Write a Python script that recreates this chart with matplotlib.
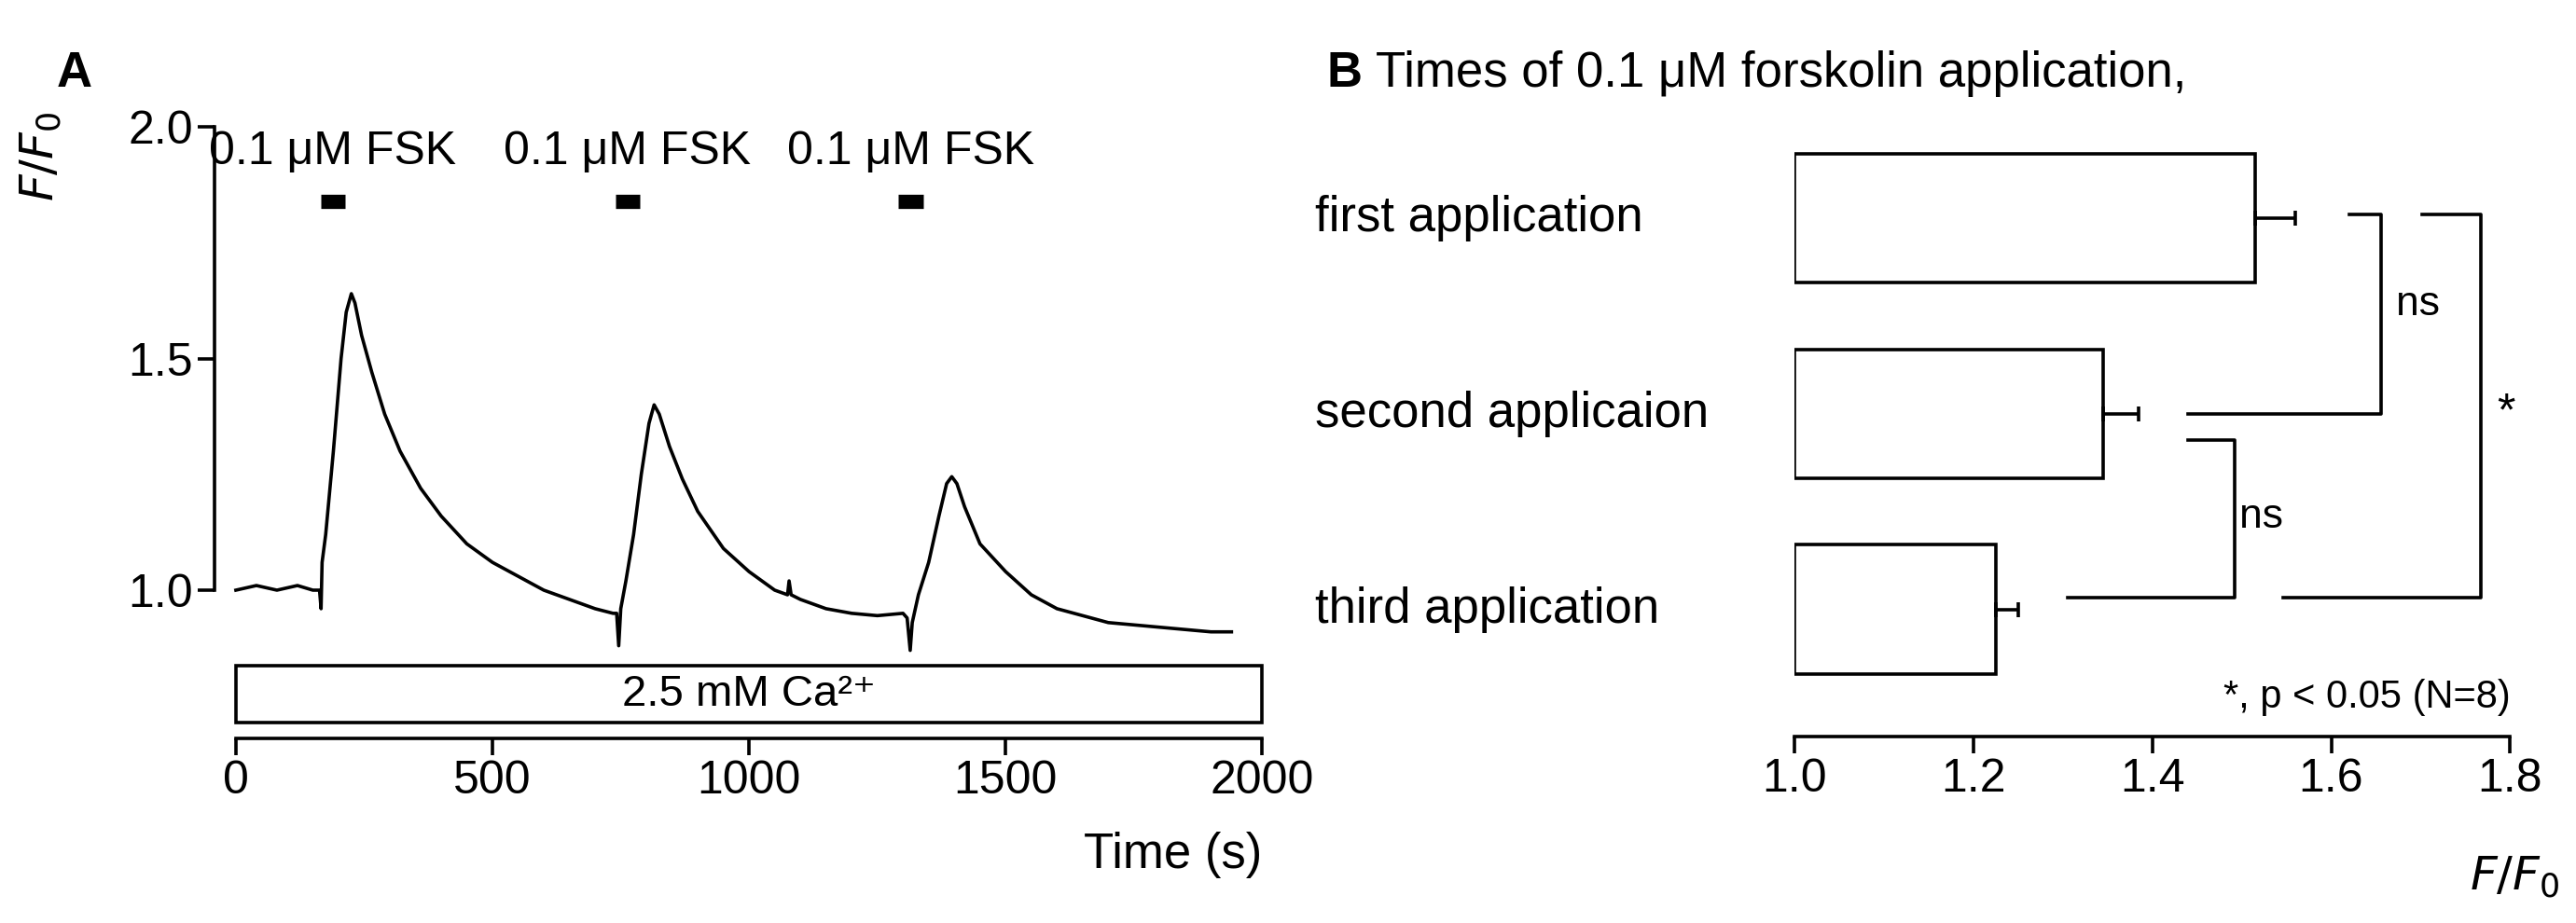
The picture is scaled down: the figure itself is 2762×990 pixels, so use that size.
import matplotlib
matplotlib.use("Agg")
import matplotlib.pyplot as plt
from matplotlib.patches import Rectangle

# Panel A trace (time s, F/F0)
t = [0, 40, 80, 120, 150, 163, 166, 168, 175, 190, 205, 215, 225, 232, 245, 265, 290, 320, 360, 400, 450, 500, 550, 600, 650, 700, 735, 742, 746, 750, 760, 775, 790, 805, 815, 825, 845, 870, 900, 950, 1000, 1050, 1075, 1078, 1082, 1100, 1150, 1200, 1250, 1300, 1308, 1314, 1318, 1330, 1350, 1370, 1385, 1395, 1405, 1420, 1450, 1500, 1550, 1600, 1650, 1700, 1800, 1900, 1940]
f = [1.0, 1.01, 1.0, 1.01, 1.0, 1.0, 0.96, 1.06, 1.12, 1.3, 1.5, 1.6, 1.64, 1.62, 1.55, 1.47, 1.38, 1.30, 1.22, 1.16, 1.10, 1.06, 1.03, 1.0, 0.98, 0.96, 0.95, 0.95, 0.88, 0.96, 1.02, 1.12, 1.25, 1.36, 1.40, 1.38, 1.31, 1.24, 1.17, 1.09, 1.04, 1.0, 0.99, 1.02, 0.99, 0.98, 0.96, 0.95, 0.945, 0.95, 0.94, 0.87, 0.93, 0.99, 1.06, 1.16, 1.23, 1.245, 1.23, 1.18, 1.10, 1.04, 0.99, 0.96, 0.945, 0.93, 0.92, 0.91, 0.91]
fsk_start = [165, 740, 1290]
fsk_end = [212, 787, 1340]

# Panel B
categories = ["first application", "second applicaion", "third application"]
means = [1.515, 1.345, 1.225]
errs = [0.045, 0.04, 0.025]

lw = 2.6
FS = 36
plt.rcParams['font.family'] = ['Liberation Sans', 'DejaVu Sans']
fig = plt.figure(figsize=(27.62, 9.9), dpi=100)

# ---- Panel A
ax = fig.add_axes([0.0832, 0.2, 0.4068, 0.6625])
ax.plot(t, f, color='black', lw=lw)
ax.set_xlim(-42, 2000)
ax.set_ylim(0.68, 2.0)
for s in ['top', 'right']:
    ax.spines[s].set_visible(False)
ax.spines['left'].set_bounds(1.0, 2.0)
ax.spines['bottom'].set_bounds(0, 2000)
for s in ['left', 'bottom']:
    ax.spines[s].set_linewidth(lw)
ax.set_xticks([0, 500, 1000, 1500, 2000])
ax.set_yticks([1.0, 1.5, 2.0])
ax.set_yticklabels(['1.0', '1.5', '2.0'])
ax.tick_params(width=lw, length=13, labelsize=FS)
for a, b in zip(fsk_start, fsk_end):
    ax.plot([a, b], [1.84, 1.84], color='black', lw=11, solid_capstyle='butt')
    ax.text((a + b) / 2, 1.9, "0.1 μM FSK", ha='center', va='bottom', fontsize=FS)
ax.add_patch(Rectangle((0, 0.715), 2000, 0.121, fill=False, lw=lw, clip_on=False))
ax.text(1000, 0.775, "2.5 mM Ca²⁺", ha='center', va='center', fontsize=FS - 2)
ax.text(2000, -0.19, "Time (s)", transform=ax.get_xaxis_transform(), ha='right', va='center', fontsize=FS + 2)
fig.text(0.016, 0.83, "$F/F_0$", rotation=90, ha='center', va='center', fontsize=FS)
fig.text(0.022, 0.92, "A", fontsize=FS + 2, fontweight='bold', ha='left', va='center')

# ---- Panel B
bx = fig.add_axes([0.6967, 0.202, 0.2777, 0.655])
y = [2, 1, 0]
bx.barh(y, [m - 1 for m in means], left=1.0, height=0.66, color='white', edgecolor='black', lw=lw)
bx.errorbar(means, y, xerr=[[0]*3, errs], fmt='none', ecolor='black', elinewidth=lw, capsize=6, capthick=lw)
bx.set_xlim(1.0, 1.8)
bx.set_ylim(-0.65, 2.44)
for s in ['top', 'right', 'left']:
    bx.spines[s].set_visible(False)
bx.spines['bottom'].set_linewidth(lw)
bx.set_yticks([])
bx.set_xticks([1.0, 1.2, 1.4, 1.6, 1.8])
bx.set_xticklabels(['1.0', '1.2', '1.4', '1.6', '1.8'])
bx.tick_params(width=lw, length=13, labelsize=FS)
for yi, c in zip(y, categories):
    bx.text(-0.67, yi, c, transform=bx.get_yaxis_transform(), ha='left', va='center', fontsize=FS + 2)
kw = dict(color='black', lw=lw, clip_on=False)
bx.plot([1.62, 1.656, 1.656, 1.44], [2.02, 2.02, 1.0, 1.0], **kw)
bx.plot([1.44, 1.492, 1.492, 1.305], [0.866, 0.866, 0.06, 0.06], **kw)
bx.plot([1.702, 1.767, 1.767, 1.546], [2.02, 2.02, 0.06, 0.06], **kw)
bx.text(1.697, 1.56, "ns", ha='center', va='center', fontsize=FS - 4)
bx.text(1.522, 0.47, "ns", ha='center', va='center', fontsize=FS - 4)
bx.text(1.795, 1.0, "*", ha='center', va='center', fontsize=FS)
bx.text(1.8, -0.45, "*, p < 0.05 (N=8)", ha='right', va='center', fontsize=FS - 6)
fig.text(0.976, 0.05, "$F/F_0$", ha='center', va='center', fontsize=FS)
fig.text(0.515, 0.92, "B", fontsize=FS + 2, fontweight='bold', ha='left', va='center')
fig.text(0.534, 0.92, "Times of 0.1 μM forskolin application,", fontsize=FS + 2, ha='left', va='center')

fig.savefig("out.png", dpi=100)
